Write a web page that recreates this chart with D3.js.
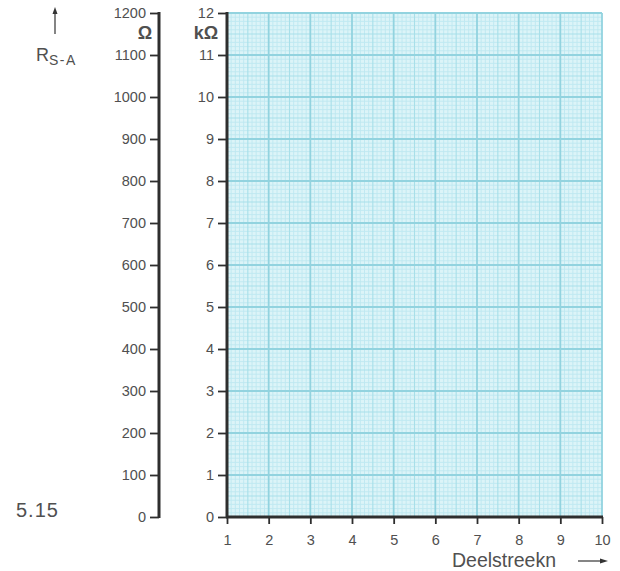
<!DOCTYPE html>
<html>
<head>
<meta charset="utf-8">
<script src="https://cdn.jsdelivr.net/npm/d3@7"></script>
<style>
  html, body { margin: 0; padding: 0; background: #fff; }
  svg { display: block; }
  text { font-family: "Liberation Sans", Arial, sans-serif; fill: #505050; }
</style>
</head>
<body>
<svg id="chart" width="620" height="571"></svg>
<script>
// Axis values
const divisions = [1, 2, 3, 4, 5, 6, 7, 8, 9, 10];
const ohmTicks = [0, 100, 200, 300, 400, 500, 600, 700, 800, 900, 1000, 1100, 1200];
const kohmTicks = [0, 1, 2, 3, 4, 5, 6, 7, 8, 9, 10, 11, 12];

const svg = d3.select("#chart");

const x = d3.scaleLinear().domain([1, 10]).range([227, 602]);
const yK = d3.scaleLinear().domain([0, 12]).range([517, 13]);
const yOhm = d3.scaleLinear().domain([0, 1200]).range([517, 13]);

// graph paper
const paper = svg.append("g");
paper.append("rect")
  .attr("x", x(1)).attr("y", yK(12))
  .attr("width", x(10) - x(1)).attr("height", yK(0) - yK(12))
  .attr("fill", "#dcf4f8");

const fine = d3.range(0, 91).map(i => 1 + i / 10);
const fineY = d3.range(0, 121).map(i => i / 10);

function level(i) { return i % 10 === 0 ? 2 : (i % 5 === 0 ? 1 : 0); }
const stroke = ["#bde8f0", "#a8dfe9", "#92d3df"];
const width = [0.9, 1.1, 1.8];

[0, 1, 2].forEach(lv => {
  paper.selectAll(null)
    .data(fine.filter((d, i) => level(i) === lv))
    .join("line")
    .attr("x1", d => x(d)).attr("x2", d => x(d))
    .attr("y1", yK(12)).attr("y2", yK(0))
    .attr("stroke", stroke[lv]).attr("stroke-width", width[lv]);
  paper.selectAll(null)
    .data(fineY.filter((d, i) => level(i) === lv))
    .join("line")
    .attr("y1", d => yK(d)).attr("y2", d => yK(d))
    .attr("x1", x(1)).attr("x2", x(10))
    .attr("stroke", stroke[lv]).attr("stroke-width", width[lv]);
});

function styleAxis(g) {
  g.select(".domain").remove();
  g.selectAll(".tick line").attr("stroke", "#2e2e2e").attr("stroke-width", 1.8);
  g.selectAll(".tick text")
    .attr("fill", "#555")
    .style("font-family", "'Liberation Sans', Arial, sans-serif")
    .style("font-size", "14.5px");
}

// outer ohm axis
const gOhm = svg.append("g").attr("transform", "translate(159,0)")
  .call(d3.axisLeft(yOhm).tickValues(ohmTicks).tickFormat(d3.format("d")).tickSize(9).tickPadding(4));
styleAxis(gOhm);
svg.append("line").attr("x1", 159).attr("x2", 159)
  .attr("y1", yOhm(1200) - 1).attr("y2", yOhm(0) + 1)
  .attr("stroke", "#2e2e2e").attr("stroke-width", 3);

// inner kΩ axis
const gK = svg.append("g").attr("transform", `translate(${x(1)},0)`)
  .call(d3.axisLeft(yK).tickValues(kohmTicks).tickFormat(d3.format("d")).tickSize(9).tickPadding(4));
styleAxis(gK);
svg.append("line").attr("x1", x(1)).attr("x2", x(1))
  .attr("y1", yK(12) - 1).attr("y2", yK(0) + 1)
  .attr("stroke", "#2e2e2e").attr("stroke-width", 3);

// bottom divisions axis
const gX = svg.append("g").attr("transform", `translate(0,${yK(0)})`)
  .call(d3.axisBottom(x).tickValues(divisions).tickFormat(d3.format("d")).tickSize(7).tickPadding(11));
styleAxis(gX);
svg.append("line").attr("x1", x(1) - 1).attr("x2", x(10) + 1)
  .attr("y1", yK(0)).attr("y2", yK(0))
  .attr("stroke", "#2e2e2e").attr("stroke-width", 3);

// unit labels
svg.append("text").attr("x", 145).attr("y", 39).attr("text-anchor", "middle")
  .style("font-size", "18px").style("font-weight", "bold").attr("fill", "#4a4a4a").text("Ω");
svg.append("text").attr("x", 206).attr("y", 39).attr("text-anchor", "middle")
  .style("font-size", "18px").style("font-weight", "bold").attr("fill", "#4a4a4a").text("kΩ");

// quantity label with arrow
svg.append("line").attr("x1", 55).attr("x2", 55).attr("y1", 34).attr("y2", 11)
  .attr("stroke", "#333").attr("stroke-width", 1.2);
svg.append("path").attr("d", "M55,7 L52.5,14 L57.5,14 Z").attr("fill", "#333");
const rs = svg.append("text").attr("x", 36).attr("y", 61).style("font-size", "18px");
rs.append("tspan").text("R");
rs.append("tspan").attr("dy", 4).style("font-size", "14px").style("letter-spacing", "1.5px").text("S-A");

// x quantity label with arrow
svg.append("text").attr("x", 452).attr("y", 567).style("font-size", "19.5px")
  .text("Deelstreekn");
svg.append("line").attr("x1", 578).attr("x2", 603).attr("y1", 561).attr("y2", 561)
  .attr("stroke", "#333").attr("stroke-width", 1.2);
svg.append("path").attr("d", "M608,561 L600,558.5 L600,563.5 Z").attr("fill", "#333");

// figure number
svg.append("text").attr("x", 16).attr("y", 517).style("font-size", "20px")
  .style("letter-spacing", "1px").text("5.15");
</script>
</body>
</html>
